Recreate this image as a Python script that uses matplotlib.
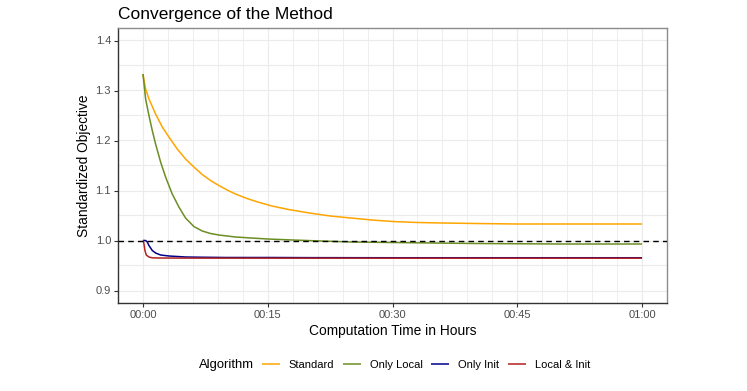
import numpy as np
import matplotlib.pyplot as plt
from matplotlib.ticker import FuncFormatter, MultipleLocator

# tiempos en minutos
t_standard = [0, 0.32, 0.72, 1.12, 1.52, 2.32, 3.12, 4.12, 5.12, 6.12, 7.12, 8.12, 9.12, 10.12, 11.12,
              12.5, 14, 15.5, 17.5, 20, 22.5, 25, 27.5, 30, 33, 36, 40, 45, 50, 55, 60]
y_standard = [1.333, 1.303, 1.283, 1.268, 1.253, 1.227, 1.207, 1.183, 1.163, 1.147, 1.132, 1.120, 1.110, 1.101, 1.093,
              1.084, 1.076, 1.069, 1.062, 1.055, 1.049, 1.045, 1.041, 1.038, 1.036, 1.035, 1.034, 1.033, 1.033, 1.033, 1.033]

t_local = [0, 0.32, 0.72, 1.12, 1.52, 2.12, 2.72, 3.52, 4.32, 5.12, 6.12, 7.12, 8.12, 9.12, 10.12, 11.12,
           13, 15, 18, 21.4, 25, 30, 40, 50, 60]
y_local = [1.333, 1.283, 1.250, 1.220, 1.193, 1.157, 1.127, 1.093, 1.067, 1.045, 1.028, 1.019, 1.014, 1.011, 1.009, 1.007,
           1.005, 1.003, 1.001, 0.999, 0.997, 0.996, 0.994, 0.993, 0.993]

t_init = [0, 0.32, 0.52, 0.72, 1.12, 1.52, 2.12, 3.12, 5.12, 7.12, 10, 15, 20, 30, 45, 60]
y_init = [1.0, 1.0, 0.997, 0.990, 0.980, 0.975, 0.971, 0.969, 0.967, 0.9665, 0.966, 0.966, 0.9657, 0.9655, 0.9655, 0.9655]

t_both = [0, 0.06, 0.12, 0.24, 0.4, 0.72, 1.12, 2, 5, 15, 30, 60]
y_both = [1.0, 0.998, 0.993, 0.980, 0.971, 0.967, 0.9653, 0.965, 0.9648, 0.9647, 0.9646, 0.9646]

labels = ['Standard', 'Only Local', 'Only Init', 'Local & Init']
colors = ['#FFA500', '#6B8E23', '#00008B', '#B22222']
series = [(t_standard, y_standard), (t_local, y_local), (t_init, y_init), (t_both, y_both)]

y_ticks = [0.9, 1.0, 1.1, 1.2, 1.3, 1.4]


def fmt_hours(m, pos):
    m = int(round(m))
    return f'{m // 60:02d}:{m % 60:02d}'


plt.rcParams['font.family'] = ['Liberation Sans', 'DejaVu Sans']

fig = plt.figure(figsize=(7.47, 3.91), dpi=100)
ax = fig.add_axes([118 / 747, 88 / 391, 549 / 747, 275 / 391])

# rejilla estilo theme_bw
for v in np.arange(0, 61, 3):
    ax.axvline(v, color='#EBEBEB', lw=0.8 if v % 15 == 0 else 0.6, zorder=0)
for v in np.arange(0.85, 1.45, 0.05):
    ax.axhline(v, color='#EBEBEB', lw=0.8, zorder=0)

for (t, y), lab, c in zip(series, labels, colors):
    ax.plot(t, y, color=c, lw=1.1, label=lab, zorder=2, solid_capstyle='butt')

ax.axhline(1.0, color='black', lw=1.0, ls=(0, (4, 3)), zorder=3)

ax.set_xlim(-3, 63)
ax.set_ylim(0.875, 1.425)
ax.xaxis.set_major_locator(MultipleLocator(15))
ax.xaxis.set_major_formatter(FuncFormatter(fmt_hours))
ax.set_yticks(y_ticks)
ax.tick_params(labelsize=8, colors='#333333', length=3, width=0.8, labelcolor='#4D4D4D', pad=2)

for side in ['left', 'bottom']:
    ax.spines[side].set_color('#333333')
    ax.spines[side].set_linewidth(1.0)
for side in ['top', 'right']:
    ax.spines[side].set_color('#8C8C8C')
    ax.spines[side].set_linewidth(1.0)

ax.set_xlabel('Computation Time in Hours', fontsize=9.9, labelpad=3)
ax.set_ylabel('Standardized Objective', fontsize=9.9, labelpad=3)
fig.text(118 / 747, 1 - 14 / 391, 'Convergence of the Method', fontsize=12.5, va='center', ha='left')

# leyenda abajo, titulo a la izquierda como en ggplot
fig.text(254 / 747, 1 - 365 / 391, 'Algorithm', fontsize=9.4, va='center', ha='right')
fig.legend(loc='center left', bbox_to_anchor=(262 / 747, 1 - 365 / 391), ncol=4, frameon=False,
           fontsize=8, handlelength=1.6, columnspacing=0.8, handletextpad=0.8, borderpad=0,
           borderaxespad=0)

fig.savefig('out.png', dpi=100)
